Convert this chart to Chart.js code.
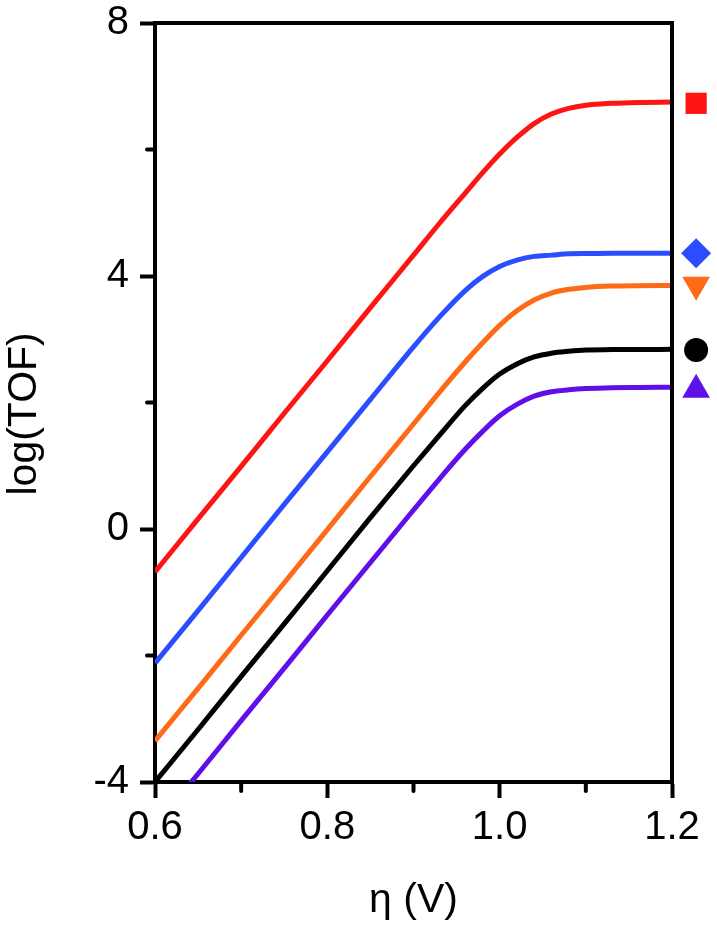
<!DOCTYPE html>
<html>
<head>
<meta charset="utf-8">
<script src="https://cdn.jsdelivr.net/npm/chart.js@4"></script>
<style>
  html, body { margin: 0; padding: 0; background: #fff; }
  #wrap { width: 717px; height: 928px; position: relative; }
</style>
</head>
<body>
<div id="wrap"><canvas id="tofChart"></canvas></div>
<script>
// overpotential (V) sampled along each curve
const etaValues = [0.6, 0.65, 0.7, 0.75, 0.8, 0.85, 0.9, 0.93, 0.96, 0.98, 1.0, 1.02, 1.04, 1.06, 1.08, 1.1, 1.13, 1.16, 1.2];

// log(TOF)
const redSeries    = [-0.68, 0.16, 0.99, 1.83, 2.66, 3.50, 4.33, 4.83, 5.31, 5.63, 5.93, 6.19, 6.41, 6.56, 6.65, 6.70, 6.73, 6.745, 6.75];
const blueSeries   = [-2.12, -1.29, -0.45, 0.39, 1.22, 2.05, 2.88, 3.35, 3.77, 3.99, 4.15, 4.25, 4.31, 4.33, 4.35, 4.355, 4.36, 4.36, 4.36];
const orangeSeries = [-3.35, -2.52, -1.68, -0.85, -0.01, 0.83, 1.66, 2.16, 2.64, 2.94, 3.22, 3.45, 3.62, 3.73, 3.79, 3.82, 3.84, 3.847, 3.85];
const blackSeries  = [-4.0, -3.17, -2.33, -1.50, -0.66, 0.18, 1.00, 1.48, 1.95, 2.22, 2.45, 2.61, 2.72, 2.78, 2.81, 2.83, 2.836, 2.839, 2.84];
const purpleSeries = [-4.70, -3.87, -3.03, -2.20, -1.36, -0.53, 0.30, 0.79, 1.26, 1.54, 1.79, 1.97, 2.10, 2.17, 2.20, 2.22, 2.235, 2.238, 2.24];

// legend-like symbols on the right side of the frame
const markerEta = 1.228;
const markerValues = [6.73, 4.36, 3.86, 2.83, 2.20];

const seriesColors = ['#ff1414', '#2b4dff', '#ff6a19', '#000000', '#600fea'];
const markerStyles = ['rect', 'rectRot', 'triangle', 'circle', 'triangle'];
const markerSizes = [15, 15, 16, 12, 16];
const markerRotation = [0, 0, 180, 0, 0];

const xTicksLabelled = [0.6, 0.8, 1.0, 1.2];
const yTicksLabelled = [-4, 0, 4, 8];

const FONT = "'Liberation Sans', Arial, sans-serif";

function toPoints(ys) {
    return etaValues.map((x, i) => ({ x: x, y: ys[i] }));
}

const allSeries = [redSeries, blueSeries, orangeSeries, blackSeries, purpleSeries];

const datasets = allSeries.map((ys, i) => ({
    data: toPoints(ys),
    borderColor: seriesColors[i],
    borderWidth: 5,
    pointRadius: 0,
    cubicInterpolationMode: 'monotone',
    fill: false
}));

markerValues.forEach((v, i) => {
    datasets.push({
        data: [{ x: markerEta, y: v }],
        showLine: false,
        clip: false,
        pointStyle: markerStyles[i],
        pointRadius: markerSizes[i],
        pointHoverRadius: 34,
        pointRotation: markerRotation[i],
        pointBorderWidth: 0,
        pointBackgroundColor: seriesColors[i],
        borderColor: seriesColors[i]
    });
});

const isMajorX = v => xTicksLabelled.some(m => Math.abs(m - v) < 1e-6);

// frame on top/right and the short minor ticks
const framePlugin = {
    id: 'frame',
    afterDraw(chart) {
        const { ctx, chartArea: a, scales } = chart;
        ctx.save();
        ctx.strokeStyle = '#000';
        ctx.lineWidth = 4;
        ctx.beginPath();
        ctx.moveTo(a.left - 2, a.top);
        ctx.lineTo(a.right, a.top);
        ctx.lineTo(a.right, a.bottom + 2);
        ctx.stroke();

        ctx.lineCap = 'round';
        ctx.beginPath();
        scales.x.ticks.forEach(t => {
            if (isMajorX(t.value)) return;
            const px = scales.x.getPixelForValue(t.value);
            ctx.moveTo(px, a.bottom);
            ctx.lineTo(px, a.bottom + 9);
        });
        scales.y.ticks.forEach(t => {
            if (yTicksLabelled.includes(t.value)) return;
            const py = scales.y.getPixelForValue(t.value);
            ctx.moveTo(a.left, py);
            ctx.lineTo(a.left - 8, py);
        });
        ctx.stroke();
        ctx.restore();
    }
};

new Chart(document.getElementById('tofChart'), {
    type: 'line',
    data: { datasets: datasets },
    plugins: [framePlugin],
    options: {
        responsive: true,
        maintainAspectRatio: false,
        animation: false,
        events: [],
        layout: {
            autoPadding: false,
            padding: { top: 23, right: 45, left: 0, bottom: 0 }
        },
        plugins: {
            legend: { display: false },
            tooltip: { enabled: false }
        },
        scales: {
            x: {
                type: 'linear',
                min: 0.6,
                max: 1.2,
                border: { display: true, width: 4, color: '#000' },
                grid: {
                    drawOnChartArea: false,
                    tickLength: 16,
                    tickWidth: 4,
                    tickColor: ctx => isMajorX(ctx.tick.value) ? '#000' : 'rgba(0,0,0,0)'
                },
                ticks: {
                    stepSize: 0.1,
                    padding: 6,
                    color: '#000',
                    font: { family: FONT, size: 40 },
                    maxRotation: 0,
                    autoSkip: false,
                    callback: v => isMajorX(v) ? v.toFixed(1) : ''
                },
                title: {
                    display: true,
                    text: 'η (V)',
                    color: '#000',
                    font: { family: FONT, size: 41 },
                    padding: { top: 0, bottom: 3 }
                },
                afterFit: scale => {
                    scale.height = 146;
                    scale.paddingLeft = 0;
                    scale.paddingRight = 0;
                }
            },
            y: {
                type: 'linear',
                min: -4,
                max: 8,
                border: { display: true, width: 4, color: '#000' },
                grid: {
                    drawOnChartArea: false,
                    tickLength: 15,
                    tickWidth: 4,
                    tickColor: ctx => yTicksLabelled.includes(ctx.tick.value) ? '#000' : 'rgba(0,0,0,0)'
                },
                ticks: {
                    stepSize: 2,
                    padding: 11,
                    color: '#000',
                    font: { family: FONT, size: 40 },
                    autoSkip: false,
                    callback: v => yTicksLabelled.includes(v) ? String(v) : ''
                },
                title: {
                    display: true,
                    text: 'log(TOF)  ',
                    color: '#000',
                    font: { family: FONT, size: 41 },
                    padding: { top: 0, bottom: 0 }
                },
                afterFit: scale => {
                    scale.width = 155;
                    scale.paddingTop = 0;
                    scale.paddingBottom = 0;
                }
            }
        }
    }
});
</script>
</body>
</html>
